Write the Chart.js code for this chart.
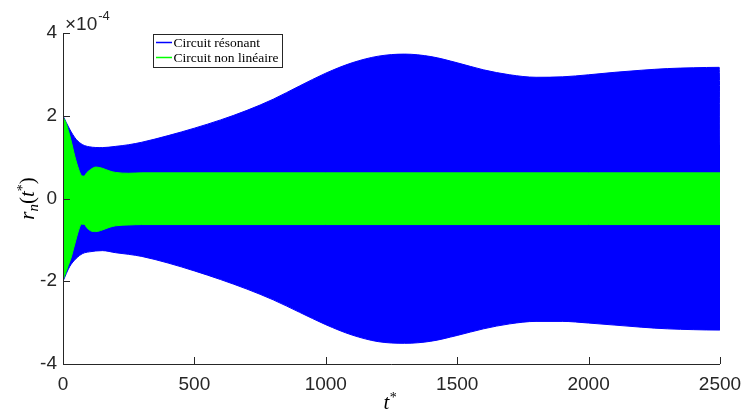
<!DOCTYPE html>
<html>
<head>
<meta charset="utf-8">
<script src="https://cdn.jsdelivr.net/npm/chart.js@4.4.0/dist/chart.umd.min.js"></script>
<style>
  html, body { margin: 0; padding: 0; background: #fff; }
  #wrap { width: 745px; height: 414px; }
</style>
</head>
<body>
<div id="wrap"><canvas id="chart" width="745" height="414"></canvas></div>
<script>
// values in units of 1e-4, envelopes
const seriesNames = ['Circuit résonant', 'Circuit non linéaire'];

const blueT    = [0, 25, 50, 75, 100, 150, 200, 250, 300, 400, 500, 600, 700, 800, 900, 1000, 1100, 1200, 1300, 1400, 1500, 1600, 1700, 1800, 1900, 2000, 2100, 2200, 2300, 2400, 2497, 2500];
const blueHigh = [2.0, 1.68, 1.43, 1.30, 1.25, 1.23, 1.26, 1.30, 1.36, 1.52, 1.70, 1.90, 2.13, 2.40, 2.72, 3.03, 3.28, 3.44, 3.49, 3.43, 3.28, 3.11, 2.99, 2.93, 2.94, 2.99, 3.05, 3.10, 3.14, 3.16, 3.17, 1.25];
const blueLow  = [-2.0, -1.65, -1.45, -1.33, -1.29, -1.26, -1.31, -1.35, -1.40, -1.56, -1.75, -1.96, -2.19, -2.45, -2.75, -3.05, -3.30, -3.46, -3.50, -3.45, -3.31, -3.15, -3.03, -2.97, -2.97, -3.01, -3.06, -3.11, -3.15, -3.17, -3.18, -3.18];

const greenT    = [0, 10, 20, 30, 45, 60, 70, 80, 90, 105, 125, 150, 175, 200, 250, 300, 1000, 2000, 2500];
const greenHigh = [1.97, 1.85, 1.65, 1.42, 1.02, 0.70, 0.56, 0.54, 0.62, 0.70, 0.76, 0.73, 0.67, 0.63, 0.61, 0.62, 0.62, 0.62, 0.62];
const greenLow  = [-1.97, -1.80, -1.62, -1.45, -1.10, -0.76, -0.62, -0.62, -0.70, -0.78, -0.80, -0.76, -0.70, -0.66, -0.64, -0.63, -0.63, -0.63, -0.63];

const xTicks = [0, 500, 1000, 1500, 2000, 2500];
const yTicks = [-4, -2, 0, 2, 4];

const axisColor = '#262626';

function pts(ts, vs) {
    return ts.map((t, i) => ({ x: t, y: vs[i] }));
}

function band(values, color, fill) {
    return {
        data: values,
        borderColor: color,
        backgroundColor: color,
        borderWidth: 1,
        pointRadius: 0,
        cubicInterpolationMode: 'monotone',
        fill: fill
    };
}

// MATLAB style ticks pointing into the axes
const inwardTicks = {
    id: 'inwardTicks',
    afterDatasetsDraw(chart) {
        const ctx = chart.ctx;
        const x = chart.scales.x, y = chart.scales.y;
        const len = 7;
        ctx.save();
        ctx.strokeStyle = axisColor;
        ctx.lineWidth = 1;
        ctx.beginPath();
        xTicks.forEach(v => {
            const px = Math.round(x.getPixelForValue(v)) + 0.5;
            ctx.moveTo(px, y.bottom);
            ctx.lineTo(px, y.bottom - len);
        });
        yTicks.forEach(v => {
            const py = Math.round(y.getPixelForValue(v)) + 0.5;
            ctx.moveTo(x.left, py);
            ctx.lineTo(x.left + len, py);
        });
        ctx.stroke();
        // axis lines over the data
        ctx.beginPath();
        ctx.moveTo(x.left + 0.5, y.top);
        ctx.lineTo(x.left + 0.5, y.bottom + 0.5);
        ctx.lineTo(x.right, y.bottom + 0.5);
        ctx.stroke();
        ctx.restore();
    }
};

const extras = {
    id: 'extras',
    afterDraw(chart) {
        const ctx = chart.ctx;
        const area = chart.chartArea;
        ctx.save();

        // exponent multiplier
        ctx.fillStyle = axisColor;
        ctx.textBaseline = 'alphabetic';
        ctx.textAlign = 'left';
        ctx.font = '19px "Liberation Sans", Arial, sans-serif';
        ctx.fillText('\u00d710', area.left + 2, 30);
        const w10 = ctx.measureText('\u00d710').width;
        ctx.font = '13px "Liberation Sans", Arial, sans-serif';
        ctx.fillText('-4', area.left + 3 + w10, 20);

        // legend
        const lx = 153.5, ly = 34.5, lw = 129, lh = 33;
        ctx.fillStyle = '#fff';
        ctx.fillRect(lx, ly, lw, lh);
        ctx.strokeStyle = axisColor;
        ctx.lineWidth = 1;
        ctx.strokeRect(lx, ly, lw, lh);
        const cols = ['#0000ff', '#00ff00'];
        ctx.font = '13.5px "Liberation Serif", "Times New Roman", serif';
        ctx.textBaseline = 'middle';
        seriesNames.forEach((name, i) => {
            const yy = 42.5 + i * 15;
            ctx.strokeStyle = cols[i];
            ctx.lineWidth = 1.5;
            ctx.beginPath();
            ctx.moveTo(156, yy);
            ctx.lineTo(172, yy);
            ctx.stroke();
            ctx.fillStyle = '#000';
            ctx.fillText(name, 173.5, yy + 0.5);
        });

        // x title: t*
        ctx.fillStyle = '#000';
        ctx.textBaseline = 'alphabetic';
        const cx = (area.left + area.right) / 2;
        ctx.font = 'italic 21px "Liberation Serif", "Times New Roman", serif';
        const tw = ctx.measureText('t').width;
        ctx.fillText('t', cx - 8, 409);
        ctx.font = '14px "Liberation Serif", "Times New Roman", serif';
        ctx.fillText('*', cx - 8 + tw + 0.5, 402);

        // y title: r_n(t*)
        ctx.translate(34, (area.top + area.bottom) / 2);
        ctx.rotate(-Math.PI / 2);
        const parts = [
            { s: 'r', f: 'italic 21px', dy: 0 },
            { s: 'n', f: 'italic 15px', dy: 4 },
            { s: '(', f: '21px', dy: 0 },
            { s: 't', f: 'italic 21px', dy: 0 },
            { s: '*', f: '14px', dy: -7 },
            { s: ')', f: '21px', dy: 0 }
        ];
        const fam = ' "Liberation Serif", "Times New Roman", serif';
        let total = 0;
        parts.forEach(p => { ctx.font = p.f + fam; p.w = ctx.measureText(p.s).width; total += p.w; });
        let px = -total / 2;
        parts.forEach(p => {
            ctx.font = p.f + fam;
            ctx.fillText(p.s, px, p.dy);
            px += p.w;
        });
        ctx.restore();
    }
};

new Chart(document.getElementById('chart'), {
    type: 'line',
    data: {
        datasets: [
            band(pts(greenT, greenHigh), '#00ff00', false),
            band(pts(greenT, greenLow), '#00ff00', '-1'),
            band(pts(blueT, blueHigh), '#0000ff', false),
            band(pts(blueT, blueLow), '#0000ff', '-1')
        ]
    },
    options: {
        responsive: false,
        animation: false,
        layout: { padding: { top: 33, right: 25, left: 0, bottom: 0 } },
        plugins: {
            legend: { display: false },
            tooltip: { enabled: false }
        },
        scales: {
            x: {
                type: 'linear',
                min: 0,
                max: 2500,
                afterBuildTicks: s => { s.ticks = xTicks.map(v => ({ value: v })); },
                afterFit: s => { s.height = 50; s.paddingLeft = 0; s.paddingRight = 0; },
                grid: { display: false, drawTicks: false },
                border: { display: false },
                ticks: {
                    padding: 9,
                    color: axisColor,
                    font: { family: '"Liberation Sans", Arial, sans-serif', size: 19 },
                    callback: v => String(v),
                    maxRotation: 0
                }
            },
            y: {
                type: 'linear',
                min: -4,
                max: 4,
                afterBuildTicks: s => { s.ticks = yTicks.map(v => ({ value: v })); },
                afterFit: s => { s.width = 63; s.paddingTop = 0; s.paddingBottom = 0; },
                grid: { display: false, drawTicks: false },
                border: { display: false },
                ticks: {
                    padding: 6,
                    color: axisColor,
                    font: { family: '"Liberation Sans", Arial, sans-serif', size: 19 },
                    callback: v => String(v)
                }
            }
        }
    },
    plugins: [inwardTicks, extras]
});
</script>
</body>
</html>
